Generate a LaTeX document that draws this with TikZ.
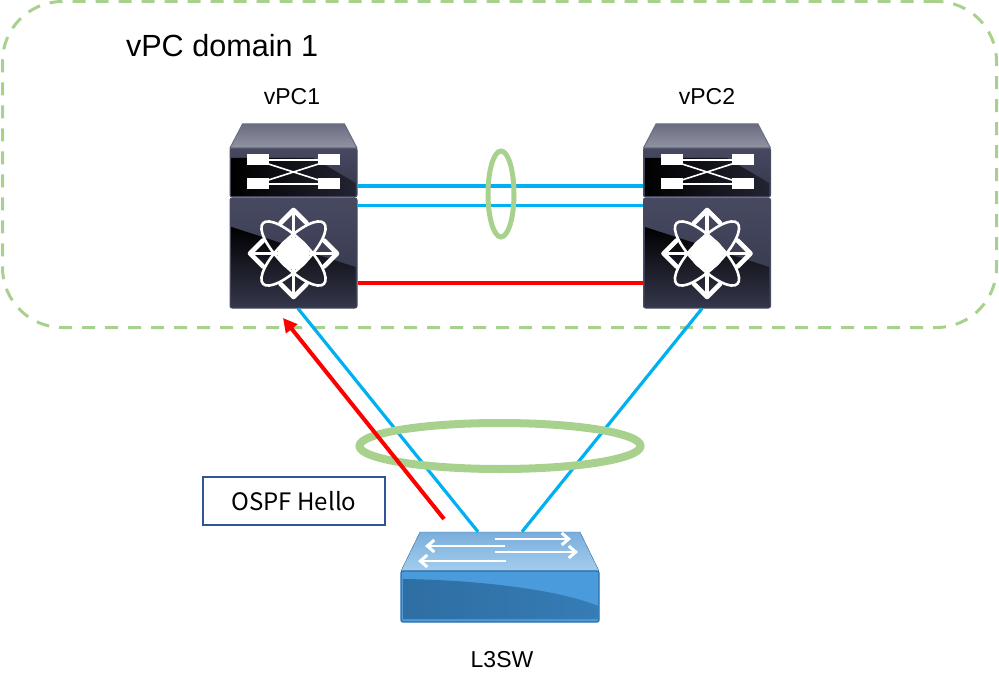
\documentclass[tikz,border=0pt]{standalone}
\usepackage{fontspec}
\setmainfont{Liberation Sans}
\newfontfamily\boxfont{Noto Sans CJK JP}
\usetikzlibrary{positioning, shapes.geometric, arrows.meta}

\definecolor{ringgreen}{HTML}{A9D18E}
\definecolor{linkblue}{HTML}{00B0F0}
\definecolor{boxblue}{HTML}{2F5597}
\definecolor{unitedge}{HTML}{4A4C62}
\definecolor{unittop}{HTML}{464960}
\definecolor{unitmid}{HTML}{1A1B27}
\definecolor{unitlow}{HTML}{34364A}
\definecolor{unitwedge}{HTML}{232433}
\definecolor{lidtop}{HTML}{6A6D80}
\definecolor{lidlow}{HTML}{9294A4}
\definecolor{swedge}{HTML}{2D6DA5}
\definecolor{swlidtop}{HTML}{7AAEDB}
\definecolor{swlidlow}{HTML}{A3CDEE}
\definecolor{swfront}{HTML}{4A9BDC}
\definecolor{swshadeleft}{HTML}{2E6EA3}
\definecolor{swshademid}{HTML}{438FCF}
\definecolor{swshaderight}{HTML}{367CB5}

\tikzset{
    unitbox/.style={draw=unitedge, line width=1pt, rounded corners=2pt, minimum width=127pt, inner sep=0pt, top color=unittop, middle color=unitmid, bottom color=unitlow},
    link/.style={linkblue, line width=3.2pt},
    peer/.style={red, line width=3.2pt},
    ring/.style={draw=ringgreen, ellipse, inner sep=0pt},
    devlabel/.style={font=\fontsize{23}{27}\selectfont},
    swarrow/.style={white, line width=2.2pt, -{Straight Barb[length=7pt, width=12pt, line width=3pt]}},
    % one chassis: lid, switch unit with crossing bars, routing unit with star
    pics/chassis/.style={code={
        \path [top color=lidtop, bottom color=lidlow, draw=lidtop, line width=1pt]
            (-51,-49) -- (51,-49) -- (63.5,-25) -- (-63.5,-25) -- cycle;
        \path [left color=black, right color=unitwedge] (-62,-15) -- (20,-15) -- (62,10) -- (62,23) -- (-62,23) -- cycle;
        \foreach \sx in {-1, 1} \foreach \sy in {-1, 1} {
            \fill [white] (\sx*35.5-11, \sy*12-7) rectangle +(22, 11);
        }
        \draw [white, line width=1.6pt] (-25,-13) -- (25,-13) (-25,11) -- (25,11) (-25,-9) -- (25,7) (-25,7) -- (25,-9);
        \path [top color=black, bottom color=unitlow] (-62,54) -- (62,94) -- (62,133) -- (-62,133) -- cycle;
        \fill [white] (0,80.5) circle (16);
        \foreach \ang in {45, -45} {
            \draw [white, line width=2.6pt, rotate around={\ang:(0,80.5)}] (0,80.5) ellipse (43 and 14.5);
        }
        \foreach \ang in {0, 90, 180, 270} {
            \draw [white, line width=3.2pt, rotate around={\ang:(0,80.5)}] (0,80.5) -- (42,80.5);
            \draw [white, line width=4.6pt, line cap=round, line join=round, rotate around={\ang:(0,80.5)}] (30.5,67.5) -- (43.5,80.5) -- (30.5,93.5);
        }
    }}
}

\begin{document}
\begin{tikzpicture}[x=1pt, y=-1pt]
    \useasboundingbox (0, 0) rectangle (999, 687);

    \node [draw=ringgreen, dash pattern=on 13pt off 10pt, line width=3pt, rounded corners=60pt, minimum width=994pt, minimum height=326pt, inner sep=0pt] (domain) at (499.5, 164.5) {};
    \node [anchor=west, font=\fontsize{30.6}{34}\selectfont] (domainlabel) at (122.5, 46) {vPC domain 1};
    \node [devlabel] (vpc1label) at (292, 97) {vPC1};
    \node [devlabel] (vpc2label) at (707, 97) {vPC2};
    \node [devlabel] (l3swlabel) at (502, 660) {L3SW};

    % units of the two chassis
    \node [unitbox, minimum height=49pt] (vpc1sw) at (293.5, 172.5) {};
    \node [unitbox, minimum height=110pt] (vpc1rt) at (293.5, 253) {};
    \node [unitbox, minimum height=49pt] (vpc2sw) at (707, 172.5) {};
    \node [unitbox, minimum height=110pt] (vpc2rt) at (707, 253) {};
    \pic at (293.5, 173) {chassis};
    \pic at (707, 173) {chassis};

    % switch body
    \node [minimum width=198pt, minimum height=90pt, inner sep=0pt] (l3sw) at (500, 577) {};
    \path [top color=swlidtop, bottom color=swlidlow, draw=swedge] (420, 532) -- (580, 532) -- (599, 571) -- (401, 571) -- cycle;
    \path [draw=swedge, line width=1.2pt, fill=swfront, rounded corners=2pt] (401, 571) -- (599, 571) -- (599, 622) -- (401, 622) -- cycle;
    \path [left color=swshadeleft, middle color=swshademid, right color=swshaderight] (403, 579) .. controls (480, 580) and (560, 590) .. (598, 606) -- (598, 619) -- (403, 619) -- cycle;
    \draw [swarrow] (495, 539) -- (571, 539);
    \draw [swarrow] (505, 546) -- (425, 546);
    \draw [swarrow] (495, 552) -- (578, 552);
    \draw [swarrow] (506, 561) -- (418, 561);

    \draw [link] ([yshift=-13.5pt]vpc1sw.east) -- ([yshift=-13.5pt]vpc2sw.west);
    \draw [link] ([yshift=-8pt]vpc1rt.north east) -- ([yshift=-8pt]vpc2rt.north west);
    \draw [peer] ([yshift=-30pt]vpc1rt.east) -- ([yshift=-30pt]vpc2rt.west);
    \draw [link] ([xshift=4.5pt]vpc1rt.south) -- ([xshift=-22pt]l3sw.north);
    \draw [link] ([xshift=-5pt]vpc2rt.south) -- ([xshift=22pt]l3sw.north);

    \node [ring, line width=5pt, minimum width=26pt, minimum height=86pt] (peerring) at (501, 194) {};
    \node [ring, line width=8pt, minimum width=281pt, minimum height=46pt] (uplinkring) at (500, 446) {};

    \coordinate (hellostart) at (444, 519);
    \coordinate (helloend) at (283, 318);
    \draw [red, line width=4pt, -{Triangle[length=14pt, width=14pt]}] (hellostart) -- (helloend);

    \node [draw=boxblue, line width=1.5pt, minimum width=182pt, minimum height=48pt, inner sep=0pt, font=\boxfont\fontsize{24}{28}\selectfont] (hello) at (294, 501) {OSPF Hello};
\end{tikzpicture}
\end{document}
